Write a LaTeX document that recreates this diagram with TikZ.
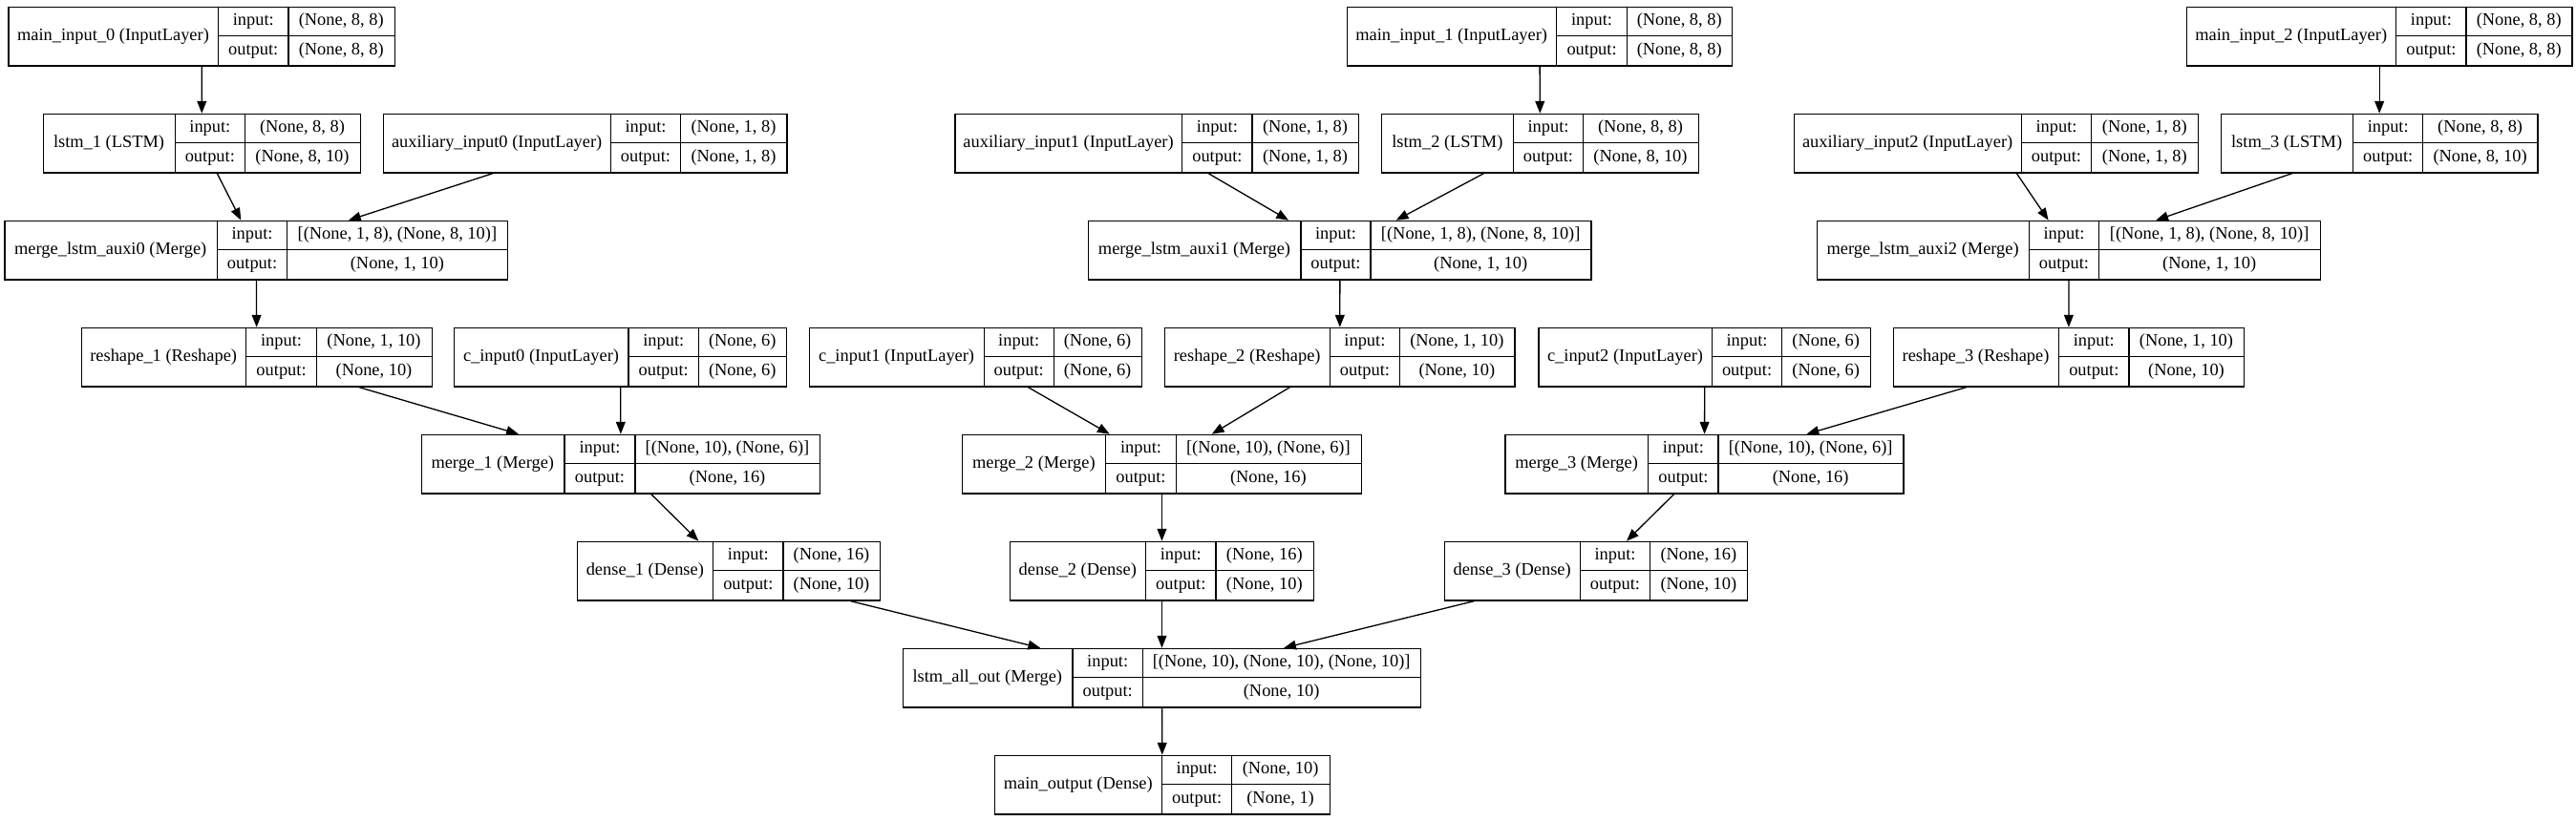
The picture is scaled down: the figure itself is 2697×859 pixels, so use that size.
\documentclass[tikz,border=0pt]{standalone}
\usepackage{fontspec}
\setmainfont{Liberation Serif}
\usetikzlibrary{arrows.meta}
\tikzset{
  keras box/.style={draw=black, line width=.65pt, inner sep=0pt, minimum height=30.8pt, anchor=north west},
  keras rule/.style={draw=black, line width=.65pt},
  keras text/.style={font=\fontsize{9.2}{11}\selectfont, inner sep=0pt, text height=.69em, text depth=.22em},
  keras edge/.style={draw=black, line width=.65pt, -{Triangle[length=6.4pt,width=4.9pt]}},
}
% #1 name, #2 left, #3 first rule, #4 second rule, #5 right, #6 top, #7 layer, #8 input, #9 output
\newcommand{\kerasbox}[9]{%
  \node[keras box, minimum width={(#5-#2)*0.5pt}] (#1) at (#2,#6) {};
  \draw[keras rule] (#3,#6) -- ++(0,61.6);
  \draw[keras rule] (#4,#6) -- ++(0,61.6);
  \draw[keras rule] (#3,{#6+30.8}) -- (#5,{#6+30.8});
  \node[keras text] at ({(#2+#3)/2},{#6+30.8}) {#7};
  \node[keras text] at ({(#3+#4)/2},{#6+15.4}) {input:};
  \node[keras text] at ({(#3+#4)/2},{#6+46.2}) {output:};
  \node[keras text] at ({(#4+#5)/2},{#6+15.4}) {#8};
  \node[keras text] at ({(#4+#5)/2},{#6+46.2}) {#9};
}

\begin{document}
\begin{tikzpicture}[x=.5pt,y=-.5pt]
  \useasboundingbox (0,0) rectangle (2697,859);

  % main inputs
  \kerasbox{main0}{8.4}{228.5}{302}{412.5}{6.7}{main\_input\_0 (InputLayer)}{(None, 8, 8)}{(None, 8, 8)}
  \kerasbox{main1}{1409.6}{1629.7}{1703.4}{1813}{6.7}{main\_input\_1 (InputLayer)}{(None, 8, 8)}{(None, 8, 8)}
  \kerasbox{main2}{2288.6}{2508.8}{2582}{2692.4}{6.7}{main\_input\_2 (InputLayer)}{(None, 8, 8)}{(None, 8, 8)}

  % lstm and auxiliary inputs
  \kerasbox{lstm1}{44.8}{183.3}{256.4}{376.6}{118.7}{lstm\_1 (LSTM)}{(None, 8, 8)}{(None, 8, 10)}
  \kerasbox{aux0}{401}{639.3}{712.7}{823.3}{118.7}{auxiliary\_input0 (InputLayer)}{(None, 1, 8)}{(None, 1, 8)}
  \kerasbox{aux1}{999.3}{1237.8}{1311}{1422}{118.7}{auxiliary\_input1 (InputLayer)}{(None, 1, 8)}{(None, 1, 8)}
  \kerasbox{lstm2}{1446}{1584.7}{1657.3}{1777.6}{118.7}{lstm\_2 (LSTM)}{(None, 8, 8)}{(None, 8, 10)}
  \kerasbox{aux2}{1877.8}{2116.4}{2189.6}{2301}{118.7}{auxiliary\_input2 (InputLayer)}{(None, 1, 8)}{(None, 1, 8)}
  \kerasbox{lstm3}{2324.6}{2463.6}{2536.8}{2656.4}{118.7}{lstm\_3 (LSTM)}{(None, 8, 8)}{(None, 8, 10)}

  % lstm + auxiliary merges
  \kerasbox{mla0}{4.2}{227.3}{300.8}{531}{230.7}{merge\_lstm\_auxi0 (Merge)}{[(None, 1, 8), (None, 8, 10)]}{(None, 1, 10)}
  \kerasbox{mla1}{1139}{1362}{1435}{1665.4}{230.7}{merge\_lstm\_auxi1 (Merge)}{[(None, 1, 8), (None, 8, 10)]}{(None, 1, 10)}
  \kerasbox{mla2}{1901.8}{2124.4}{2197.6}{2428.7}{230.7}{merge\_lstm\_auxi2 (Merge)}{[(None, 1, 8), (None, 8, 10)]}{(None, 1, 10)}

  % reshapes and c inputs
  \kerasbox{reshape1}{84.8}{257.6}{331.5}{451.5}{342.7}{reshape\_1 (Reshape)}{(None, 1, 10)}{(None, 10)}
  \kerasbox{cin0}{475}{658}{731.5}{823}{342.7}{c\_input0 (InputLayer)}{(None, 6)}{(None, 6)}
  \kerasbox{cin1}{847}{1030.2}{1103.2}{1195}{342.7}{c\_input1 (InputLayer)}{(None, 6)}{(None, 6)}
  \kerasbox{reshape2}{1219}{1392.4}{1465.4}{1585.3}{342.7}{reshape\_2 (Reshape)}{(None, 1, 10)}{(None, 10)}
  \kerasbox{cin2}{1610.3}{1792.7}{1865.4}{1958}{342.7}{c\_input2 (InputLayer)}{(None, 6)}{(None, 6)}
  \kerasbox{reshape3}{1981.5}{2155.6}{2229}{2348.9}{342.7}{reshape\_3 (Reshape)}{(None, 1, 10)}{(None, 10)}

  % merges
  \kerasbox{merge1}{440.6}{591}{665}{858}{454.7}{merge\_1 (Merge)}{[(None, 10), (None, 6)]}{(None, 16)}
  \kerasbox{merge2}{1007}{1157.8}{1231.2}{1424.6}{454.7}{merge\_2 (Merge)}{[(None, 10), (None, 6)]}{(None, 16)}
  \kerasbox{merge3}{1575.3}{1725.8}{1799}{1992.3}{454.7}{merge\_3 (Merge)}{[(None, 10), (None, 6)]}{(None, 16)}

  % dense layers
  \kerasbox{dense1}{604}{746.7}{820}{921}{566.7}{dense\_1 (Dense)}{(None, 16)}{(None, 10)}
  \kerasbox{dense2}{1057}{1199.6}{1273}{1374.6}{566.7}{dense\_2 (Dense)}{(None, 16)}{(None, 10)}
  \kerasbox{dense3}{1512}{1654.3}{1727.7}{1829}{566.7}{dense\_3 (Dense)}{(None, 16)}{(None, 10)}

  % output
  \kerasbox{allout}{944.6}{1123}{1196.4}{1487}{678.7}{lstm\_all\_out (Merge)}{[(None, 10), (None, 10), (None, 10)]}{(None, 10)}
  \kerasbox{mainout}{1041}{1216.5}{1289.7}{1391.5}{790.7}{main\_output (Dense)}{(None, 10)}{(None, 1)}

  \foreach \src/\dst in {main0/lstm1, lstm1/mla0, aux0/mla0, mla0/reshape1, reshape1/merge1, cin0/merge1, merge1/dense1, dense1/allout,
      main1/lstm2, aux1/mla1, lstm2/mla1, mla1/reshape2, cin1/merge2, reshape2/merge2, merge2/dense2, dense2/allout,
      main2/lstm3, aux2/mla2, lstm3/mla2, mla2/reshape3, cin2/merge3, reshape3/merge3, merge3/dense3, dense3/allout,
      allout/mainout}
    \draw[keras edge] (\src) -- (\dst);
\end{tikzpicture}
\end{document}
